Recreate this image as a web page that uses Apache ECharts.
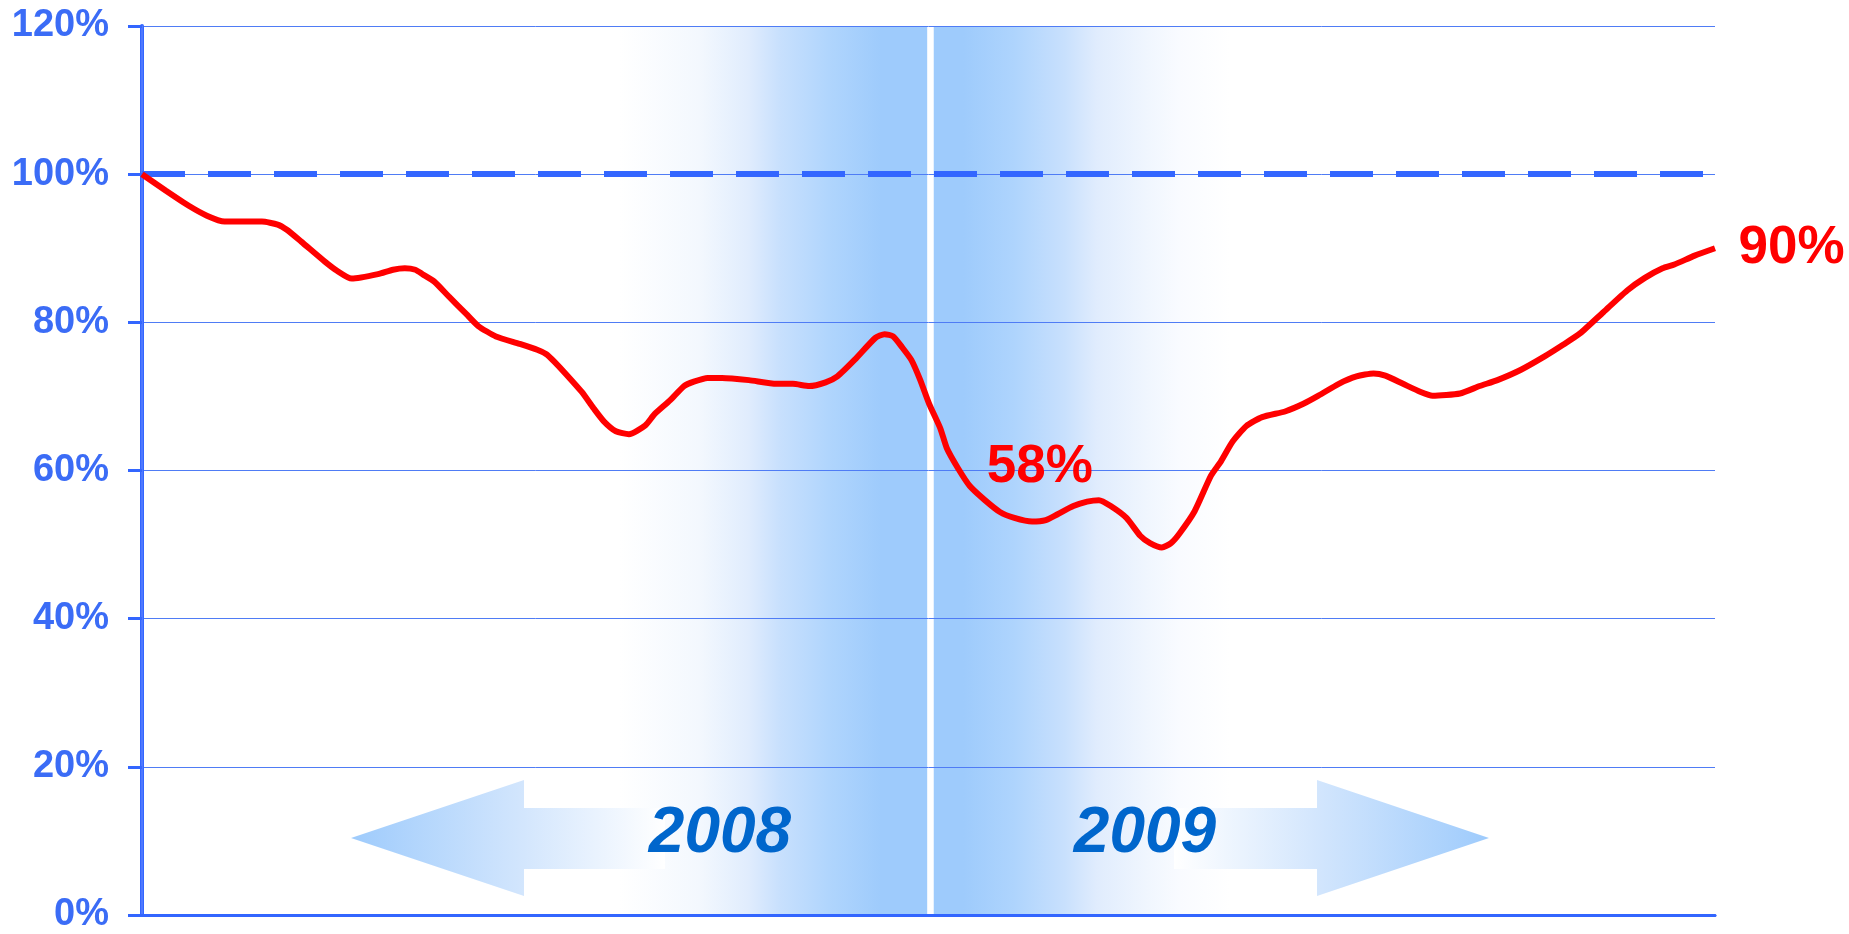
<!DOCTYPE html>
<html><head><meta charset="utf-8">
<script src="https://cdn.jsdelivr.net/npm/echarts@6/dist/echarts.min.js"></script>
<style>html,body{margin:0;padding:0;background:#fff}#c{width:1849px;height:934px}</style>
</head><body><div id="c"></div>
<script>
// x position in months from the start of 2008 (0..24)
const months = [0,0.36,0.72,0.99,1.26,1.83,2.07,2.21,2.43,2.79,2.97,3.2,3.6,3.83,4.01,4.17,4.28,4.46,4.68,4.95,5.13,5.4,5.76,6.03,6.17,6.29,6.47,6.71,6.89,7.05,7.23,7.43,7.68,7.82,8.06,8.27,8.42,8.63,8.85,9.26,9.68,9.93,10.18,10.43,10.61,10.88,11.19,11.33,11.46,11.6,11.74,11.87,12.01,12.18,12.28,12.45,12.63,12.86,13.09,13.31,13.58,13.79,13.97,14.21,14.42,14.6,14.78,15.02,15.23,15.38,15.56,15.7,15.83,16.06,16.31,16.46,16.64,16.85,17.09,17.45,17.72,17.95,18.26,18.53,18.79,18.97,19.24,19.51,19.69,20.11,20.41,20.68,21.04,21.4,21.67,21.94,22.3,22.66,22.93,23.2,23.38,23.69,24];
// index value in %
const values = [100,97.8,95.7,94.4,93.6,93.6,93.2,92.5,90.9,88.2,87.0,85.9,86.5,87.1,87.3,87.1,86.5,85.5,83.5,81.1,79.5,78.1,77.1,76.3,75.7,74.7,73.0,70.6,68.4,66.6,65.3,64.9,66.1,67.6,69.5,71.4,72.0,72.5,72.5,72.2,71.7,71.7,71.4,71.9,72.7,75.0,77.9,78.4,78.1,76.6,74.9,72.3,69.0,65.7,63.0,60.3,57.9,56.0,54.4,53.6,53.1,53.3,54.1,55.2,55.8,56.0,55.2,53.6,51.2,50.2,49.6,50.2,51.5,54.5,59.3,61.2,63.9,66.0,67.2,68.0,69.0,70.1,71.7,72.7,73.1,72.8,71.7,70.6,70.1,70.4,71.4,72.2,73.6,75.4,76.9,78.5,81.4,84.3,86.0,87.3,87.8,89.0,90.0];
const yTicks = [0,20,40,60,80,100,120];
const baseline = 100;
const endLabel = '90%';
const troughLabel = '58%';
const troughLabelAt = [12.88, 60.4];
const years = ['2008','2009'];
const leftBand = [7.29, 11.98];
const rightBand = [12.08, 16.6];

const FONT = 'Liberation Sans, Arial, sans-serif';
const BLUE = '#3366ff';
const BAND = '#9ecbfc';
const chart = echarts.init(document.getElementById('c'));
const data = months.map((m,i)=>[m, values[i]]);

chart.setOption({
  animation:false,
  grid:{left:142, right:134, top:26, bottom:17},
  xAxis:[
    {type:'value', min:0, max:24, z:3,
     axisLine:{show:true, lineStyle:{color:BLUE, width:3}},
     axisTick:{show:false}, axisLabel:{show:false}, splitLine:{show:false}},
    {type:'value', min:0, max:24, position:'top', z:3,
     axisLine:{show:true, lineStyle:{color:BLUE, width:2.5}},
     axisTick:{show:false}, axisLabel:{show:false}, splitLine:{show:false}}
  ],
  yAxis:[
    {type:'value', min:yTicks[0], max:yTicks[yTicks.length-1], interval:20, z:3,
     axisLine:{show:true, lineStyle:{color:BLUE, width:4}},
     axisTick:{show:true, length:14, lineStyle:{color:BLUE, width:3}},
     axisLabel:{margin:33, formatter:v=>v+'%', color:'#3b6cf6', fontSize:38, fontWeight:'bold', fontFamily:FONT},
     splitLine:{show:true, lineStyle:{color:'#4f7cf5', width:1}}},
    {type:'value', min:yTicks[0], max:yTicks[yTicks.length-1], position:'right', z:3,
     axisLine:{show:true, lineStyle:{color:'#5a80ff', width:1.5}},
     axisTick:{show:false}, axisLabel:{show:false}, splitLine:{show:false}}
  ],
  series:[
    {type:'line', data:data, z:1, silent:true, symbol:'none',
     lineStyle:{opacity:0},
     markArea:{silent:true, data:[
       [{xAxis:leftBand[0], yAxis:0, itemStyle:{color:{type:'linear',x:0,y:0,x2:1,y2:0,colorStops:[
          {offset:0,color:'#ffffff'},{offset:0.26,color:'#f3f8fe'},{offset:0.42,color:'#e0ecfd'},
          {offset:0.52,color:'#c8e0fd'},{offset:0.68,color:'#b0d5fd'},{offset:0.85,color:BAND},{offset:1,color:BAND}]}}},
        {xAxis:leftBand[1], yAxis:120}],
       [{xAxis:rightBand[0], yAxis:0, itemStyle:{color:{type:'linear',x:0,y:0,x2:1,y2:0,colorStops:[
          {offset:0,color:BAND},{offset:0.1,color:BAND},{offset:0.27,color:'#aed4fd'},{offset:0.44,color:'#c8e0fd'},
          {offset:0.55,color:'#e0ecfd'},{offset:0.72,color:'#f0f6fe'},{offset:0.83,color:'#f9fbff'},{offset:1,color:'#ffffff'}]}}},
        {xAxis:rightBand[1], yAxis:120}]
     ]}},
    {type:'line', data:data, z:5, smooth:0.2, symbol:'none', silent:true,
     lineStyle:{color:'#ff0000', width:6},
     markLine:{silent:true, symbol:'none', data:[{yAxis:baseline}],
       lineStyle:{color:BLUE, width:6, type:[43,23]}, label:{show:false}},
     markPoint:{silent:true, symbol:'circle', symbolSize:1, itemStyle:{color:'rgba(0,0,0,0)'},
       label:{show:true, position:'right', color:'#ff0000', fontSize:53, fontWeight:'bold', fontFamily:FONT},
       data:[
         {coord:[months[months.length-1], values[values.length-1]], label:{formatter:endLabel, distance:23}},
         {coord:troughLabelAt, label:{formatter:troughLabel, distance:0}}
       ]}}
  ],
  graphic:[
    {type:'polygon', z:50, silent:true,
     shape:{points:[[351,838],[524,780],[524,808],[665,808],[665,869],[524,869],[524,896]]},
     style:{fill:{type:'linear',x:351,y:0,x2:665,y2:0,global:true,colorStops:[{offset:0,color:BAND},{offset:0.55,color:'#d3e6fd'},{offset:1,color:'#ffffff'}]}}},
    {type:'polygon', z:50, silent:true,
     shape:{points:[[1489,838],[1317,780],[1317,808],[1174,808],[1174,869],[1317,869],[1317,896]]},
     style:{fill:{type:'linear',x:1174,y:0,x2:1489,y2:0,global:true,colorStops:[{offset:0,color:'#ffffff'},{offset:0.45,color:'#d3e6fd'},{offset:1,color:BAND}]}}},
    {type:'text', z:60, silent:true, x:720, y:834,
     style:{text:years[0], fill:'#0066cc', font:'italic bold 64px '+FONT, align:'center', verticalAlign:'middle'}},
    {type:'text', z:60, silent:true, x:1145, y:834,
     style:{text:years[1], fill:'#0066cc', font:'italic bold 64px '+FONT, align:'center', verticalAlign:'middle'}}
  ]
});
</script></body></html>
